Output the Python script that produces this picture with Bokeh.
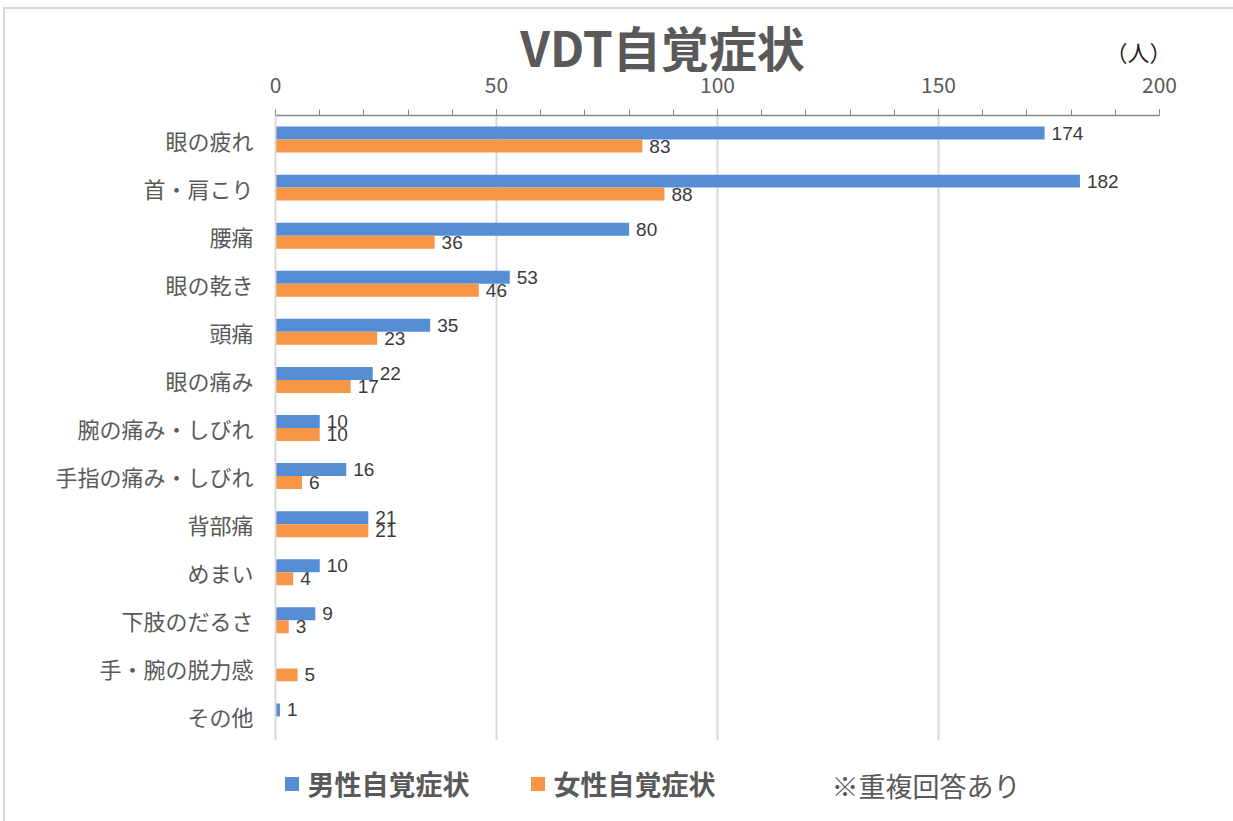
from bokeh.plotting import figure
from bokeh.layouts import column
from bokeh.models import (ColumnDataSource, FactorRange, Range1d, LabelSet, Label,
                          SingleIntervalTicker)
from bokeh.core.properties import value
from bokeh.transform import dodge
from bokeh.embed import file_html
from bokeh.resources import INLINE

categories = ["眼の疲れ", "首・肩こり", "腰痛", "眼の乾き", "頭痛", "眼の痛み",
              "腕の痛み・しびれ", "手指の痛み・しびれ", "背部痛", "めまい",
              "下肢のだるさ", "手・腕の脱力感", "その他"]
male = [174, 182, 80, 53, 35, 22, 10, 16, 21, 10, 9, 0, 1]
female = [83, 88, 36, 46, 23, 17, 10, 6, 21, 4, 3, 5, 0]
series_names = ["男性自覚症状", "女性自覚症状"]
series_colors = ["#558ED5", "#F79646"]
title_text = "VDT自覚症状"
unit_text = "（人）"
note_text = "※重複回答あり"
x_ticks_interval = 50
x_max = 200

BLUE, ORANGE = series_colors
CJK = "Noto Sans CJK JP"
BORDER = "#d9d9d9"

W, H = 1233, 821
OX, OY = 5, 9              # space taken by the outer border (left, top)
FRAME_TOP, FRAME_BOTTOM = 115, 740
FRAME_LEFT, FRAME_RIGHT = 275, 1159
MAIN_START = 63            # page y where the chart figure starts
TITLE_END = 99             # page y where the (overlapped) title strip ends
BOT_START = 750
TOP_H = TITLE_END - OY
MAIN_H = BOT_START - MAIN_START
BOT_H = H - BOT_START
FW = W - OX
B_LEFT = FRAME_LEFT - OX
B_RIGHT = W - FRAME_RIGHT


def strip_fig(h, y0):
    # a strip whose frame is aligned with the chart frame; data units = page pixels
    f = figure(width=FW, height=h, output_backend="svg", toolbar_location=None,
               x_range=Range1d(FRAME_LEFT, FRAME_RIGHT), y_range=Range1d(y0 + h, y0),
               min_border_left=B_LEFT, min_border_right=B_RIGHT,
               min_border_top=0, min_border_bottom=0)
    f.axis.visible = False
    f.grid.visible = False
    f.outline_line_color = None
    f.background_fill_color = "white"
    f.border_fill_color = "white"
    return f


# ---- title strip (the chart figure overlaps its lower part) ----
ft = strip_fig(TOP_H, OY)
ft.margin = (0, 0, -(TITLE_END - MAIN_START), 0)
ft.add_layout(Label(x=662, y=45, text=title_text, text_font=CJK, text_font_size="48px",
                    text_font_style="bold", text_color="#595959", text_align="center",
                    text_baseline="middle"))
ft.add_layout(Label(x=1138, y=50, text=unit_text, text_font=CJK, text_font_size="22px",
                    text_color="#222222", text_align="center", text_baseline="middle"))

# ---- main chart ----
src = ColumnDataSource(dict(cat=categories, male=male, female=female))
lab_m = ColumnDataSource(dict(cat=[c for c, v in zip(categories, male) if v > 0],
                              v=[v for v in male if v > 0],
                              t=[str(v) for v in male if v > 0]))
lab_f = ColumnDataSource(dict(cat=[c for c, v in zip(categories, female) if v > 0],
                              v=[v for v in female if v > 0],
                              t=[str(v) for v in female if v > 0]))

p = figure(width=FW, height=MAIN_H, output_backend="svg", toolbar_location=None,
           y_range=FactorRange(factors=list(reversed(categories))),
           x_range=Range1d(0, x_max), x_axis_location="above",
           min_border_left=B_LEFT, min_border_right=B_RIGHT,
           min_border_top=FRAME_TOP - MAIN_START, min_border_bottom=BOT_START - FRAME_BOTTOM)
p.outline_line_color = None
p.background_fill_color = "white"
p.border_fill_alpha = 0

p.hbar(y=dodge("cat", 0.135, range=p.y_range), right="male", left=0, height=0.27,
       source=src, fill_color=BLUE, line_color=None)
p.hbar(y=dodge("cat", -0.135, range=p.y_range), right="female", left=0, height=0.27,
       source=src, fill_color=ORANGE, line_color=None)

common = dict(text_font_size="19px", text_color="#3a3a3a",
              text_font=value("Liberation Sans"), text_baseline="middle", x_offset=7)
p.add_layout(LabelSet(x="v", y=dodge("cat", 0.135, range=p.y_range), text="t",
                      source=lab_m, **common))
p.add_layout(LabelSet(x="v", y=dodge("cat", -0.135, range=p.y_range), text="t",
                      source=lab_f, **common))

xa = p.xaxis[0]
xa.ticker = SingleIntervalTicker(interval=x_ticks_interval, num_minor_ticks=5)
xa.axis_line_color = "#888888"
xa.axis_line_width = 1.5
xa.major_tick_line_color = "#888888"
xa.minor_tick_line_color = "#888888"
xa.major_tick_out = 6
xa.major_tick_in = 0
xa.minor_tick_out = 6
xa.minor_tick_in = 0
xa.major_label_text_font = CJK
xa.major_label_text_font_size = "21px"
xa.major_label_text_color = "#595959"
xa.major_label_standoff = 17

ya = p.yaxis[0]
ya.axis_line_color = BORDER
ya.axis_line_width = 2
ya.major_tick_line_color = None
ya.minor_tick_line_color = None
ya.major_label_text_font = CJK
ya.major_label_text_font_size = "22px"
ya.major_label_text_color = "#595959"
ya.major_label_standoff = 16

p.xgrid.grid_line_color = BORDER
p.xgrid.grid_line_width = 2
p.ygrid.grid_line_color = None

# ---- legend strip ----
fb = strip_fig(BOT_H, BOT_START)
fb.rect(x=[291.5, 537.5], y=[783.5, 783.5], width=14, height=14,
        fill_color=series_colors, line_color=None)
for xx, name in zip([307, 553], series_names):
    fb.add_layout(Label(x=xx, y=783, text=name, text_font=CJK, text_font_size="27px",
                        text_font_style="bold", text_color="#595959", text_align="left",
                        text_baseline="middle"))
fb.add_layout(Label(x=831, y=785, text=note_text, text_font=CJK, text_font_size="27px",
                    text_color="#595959", text_align="left", text_baseline="middle"))

layout = column(ft, p, fb, spacing=0, margin=(OY - 2, 0, 0, OX - 2),
                styles={"border-top": "2px solid " + BORDER,
                        "border-left": "2px solid " + BORDER})
open("out.html", "w").write(file_html(layout, INLINE))
